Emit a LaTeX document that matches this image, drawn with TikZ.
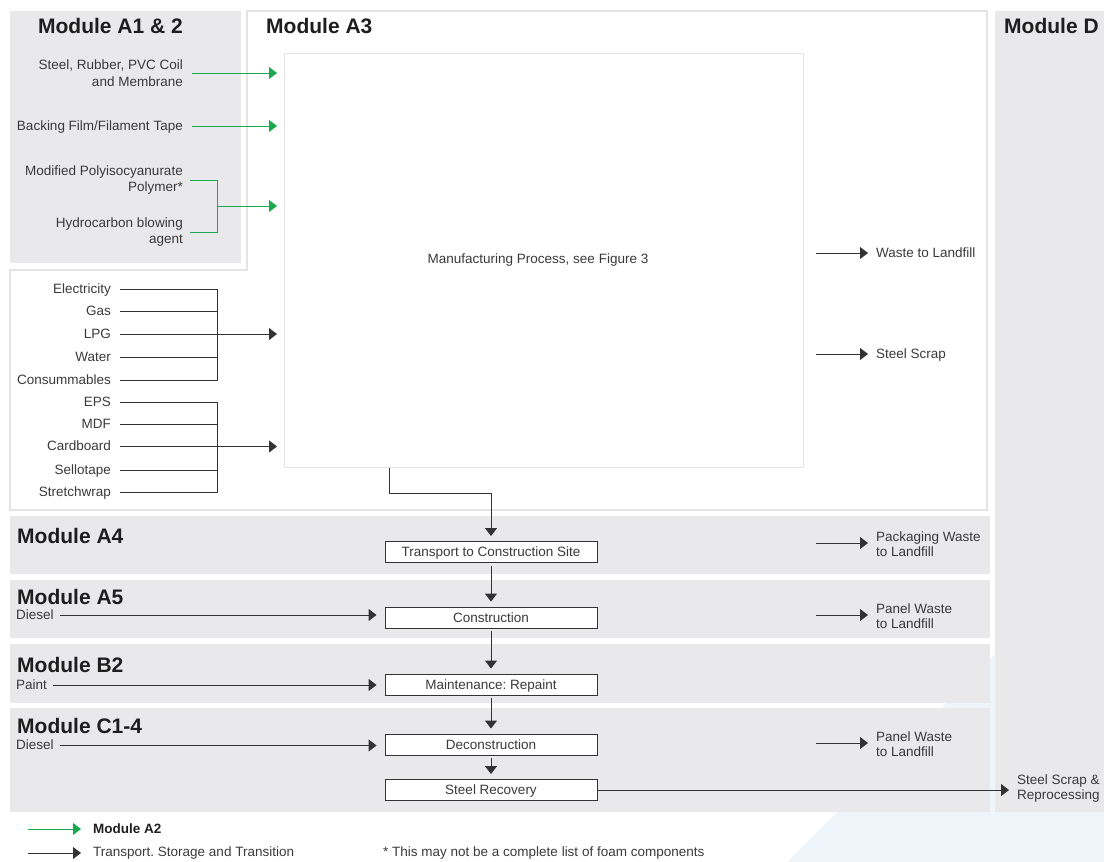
\documentclass[tikz,border=0pt]{standalone}
\usepackage{fontspec}
\setmainfont{Liberation Sans}
\usetikzlibrary{arrows.meta,calc}
\frenchspacing
\definecolor{panel}{HTML}{E9E9EB}
\definecolor{outl}{HTML}{E4E4E4}
\definecolor{txt}{HTML}{3A3A3A}
\definecolor{ttl}{HTML}{1E1E1E}
\definecolor{grn}{HTML}{1BA94F}
\definecolor{ln}{HTML}{333333}
\definecolor{wm}{HTML}{EEF5FB}
\tikzset{
  lbl/.style={font=\fontsize{13.5}{16}\selectfont, text=txt, inner sep=0pt, text height=9.5pt, text depth=1pt},
  lbltwo/.style={font=\fontsize{13.5}{16.5}\selectfont, text=txt, inner sep=0pt, align=right},
  lblr/.style={font=\fontsize{13.5}{15}\selectfont, text=txt, inner sep=0pt, align=left, anchor=west},
  ttlnode/.style={font=\fontsize{21}{24}\selectfont\bfseries, text=ttl, inner sep=0pt},
  pbox/.style={draw=ln, line width=0.9pt, fill=white, minimum width=212pt, minimum height=21pt, inner sep=0pt, font=\fontsize{13.5}{16}\selectfont, text=txt, text height=9.5pt, text depth=0.5pt},
  tip/.style={-{Triangle[length=8pt,width=12pt]}},
  barr/.style={draw=ln, line width=0.9pt, tip},
  bline/.style={draw=ln, line width=0.9pt},
  garr/.style={draw=grn, line width=1pt, -{Triangle[length=8pt,width=12pt]}},
  gline/.style={draw=grn, line width=1pt},
}
\begin{document}
\begin{tikzpicture}[x=1pt,y=-1pt]
\useasboundingbox (0,0) rectangle (1104,862);
% watermark
\fill[wm] (787,862) -- (1002,647) -- (1104,647) -- (1104,862) -- cycle;
% panels
\fill[panel] (10,11) rectangle (241,263);
\fill[panel] (995,11) rectangle (1104,812);
\draw[outl, line width=1.6pt, fill=white] (247,11) -- (987,11) -- (987,510) -- (10,510) -- (10,270) -- (247,270) -- cycle;
\fill[panel] (10,516) rectangle (990,574);
\fill[panel] (10,580) rectangle (990,638);
\fill[panel] (10,644) rectangle (990,703);
\fill[panel] (10,708) rectangle (990,812);
% titles
\node[ttlnode, anchor=base east] (tA12) at (183,34) {Module A1 \& 2};
\node[ttlnode, anchor=base west] (tA3) at (266,34) {Module A3};
\node[ttlnode, anchor=base west] (tD) at (1004,34) {Module D};
\node[ttlnode, anchor=base west] (tA4) at (17,543) {Module A4};
\node[ttlnode, anchor=base west] (tA5) at (17,604) {Module A5};
\node[ttlnode, anchor=base west] (tB2) at (17,672) {Module B2};
\node[ttlnode, anchor=base west] (tC) at (17,733) {Module C1-4};
% manufacturing box
\node[draw=outl, line width=1.3pt, minimum width=519pt, minimum height=414pt, inner sep=0pt, anchor=north west] (mfg) at (284,53) {};
\node[lbl] (mfgt) at (538,259) {Manufacturing Process, see Figure 3};
% green inputs
\node[lbltwo, anchor=east] (steel) at (183,73) {Steel, Rubber, PVC Coil\\and Membrane};
\node[lbl, anchor=east] (back) at (183,126) {Backing Film/Filament Tape};
\node[lbltwo, anchor=east] (mpp) at (183,180) {Modified Polyisocyanurate\\Polymer*};
\node[lbltwo, anchor=east] (hba) at (183,232) {Hydrocarbon blowing\\agent};
\coordinate (gbx) at (217,206);
\draw[garr, shorten >=7pt] ([xshift=9pt]steel.east) -- (steel.east -| mfg.west);
\draw[garr, shorten >=7pt] ([xshift=9pt]back.east) -- (back.east -| mfg.west);
\draw[gline] ([xshift=7pt]mpp.east) -| (gbx |- hba.east) -- ([xshift=7pt]hba.east);
\draw[garr, shorten >=7pt] (gbx) -- (gbx -| mfg.west);
% black inputs group 1
\node[lbl, anchor=east] (elec) at (111,289) {Electricity};
\node[lbl, anchor=east] (gas) at (111,311.5) {Gas};
\node[lbl, anchor=east] (lpg) at (111,334) {LPG};
\node[lbl, anchor=east] (water) at (111,357.5) {Water};
\node[lbl, anchor=east] (cons) at (111,380.5) {Consummables};
\coordinate (bx1) at (217,334);
\draw[bline] ([xshift=9pt]elec.east) -| (bx1 |- cons.east) -- ([xshift=9pt]cons.east);
\draw[bline] ([xshift=9pt]gas.east) -- (gas.east -| bx1);
\draw[bline] ([xshift=9pt]water.east) -- (water.east -| bx1);
\draw[barr, shorten >=7pt] ([xshift=9pt]lpg.east) -- (lpg.east -| mfg.west);
% black inputs group 2
\node[lbl, anchor=east] (eps) at (111,402.5) {EPS};
\node[lbl, anchor=east] (mdf) at (111,424) {MDF};
\node[lbl, anchor=east] (card) at (111,446.5) {Cardboard};
\node[lbl, anchor=east] (sello) at (111,470) {Sellotape};
\node[lbl, anchor=east] (stretch) at (111,492.5) {Stretchwrap};
\coordinate (bx2) at (217,446.5);
\draw[bline] ([xshift=9pt]eps.east) -| (bx2 |- stretch.east) -- ([xshift=9pt]stretch.east);
\draw[bline] ([xshift=9pt]mdf.east) -- (mdf.east -| bx2);
\draw[bline] ([xshift=9pt]sello.east) -- (sello.east -| bx2);
\draw[barr, shorten >=7pt] ([xshift=9pt]card.east) -- (card.east -| mfg.west);
% outputs of A3
\node[lbl, anchor=west] (wl) at (876,253) {Waste to Landfill};
\coordinate (wls) at (816,253);
\draw[barr, shorten >=8pt] (wls) -- (wl.west);
\node[lbl, anchor=west] (ss) at (876,354) {Steel Scrap};
\coordinate (sss) at (816,354);
\draw[barr, shorten >=8pt] (sss) -- (ss.west);
% process chain
\node[pbox] (tr) at (491,552) {Transport to Construction Site};
\node[pbox] (con) at (491,617.5) {Construction};
\node[pbox] (mai) at (491,684.5) {Maintenance: Repaint};
\node[pbox] (dec) at (491,744.5) {Deconstruction};
\node[pbox] (rec) at (491,790) {Steel Recovery};
\draw[barr, shorten >=5pt] ([xshift=5pt]tr.west |- mfg.south) -- ++(0,25) -| (tr.north);
\draw[barr, shorten <=3pt, shorten >=5pt] (tr.south) -- (con.north);
\draw[barr, shorten <=3pt, shorten >=5pt] (con.south) -- (mai.north);
\draw[barr, shorten <=3pt, shorten >=5pt] (mai.south) -- (dec.north);
\draw[barr, shorten <=3pt, shorten >=5pt] (dec.south) -- (rec.north);
% side inputs
\node[lbl, anchor=west] (d1) at (16,615) {Diesel};
\node[lbl, anchor=west] (pt) at (16,685) {Paint};
\node[lbl, anchor=west] (d2) at (16,745.5) {Diesel};
\draw[barr, shorten >=8pt] ([xshift=6pt]d1.east) -- (d1.east -| con.west);
\draw[barr, shorten >=8pt] ([xshift=6pt]pt.east) -- (pt.east -| mai.west);
\draw[barr, shorten >=8pt] ([xshift=6pt]d2.east) -- (d2.east -| dec.west);
% side outputs
\node[lblr] (pkw) at (876,544.5) {Packaging Waste\\to Landfill};
\coordinate (pkws) at (816,543);
\draw[barr, shorten >=8pt] (pkws) -- (pkws -| pkw.west);
\node[lblr] (pw1) at (876,616.5) {Panel Waste\\to Landfill};
\coordinate (pw1s) at (816,615);
\draw[barr, shorten >=8pt] (pw1s) -- (pw1s -| pw1.west);
\node[lblr] (pw2) at (876,744.5) {Panel Waste\\to Landfill};
\coordinate (pw2s) at (816,743);
\draw[barr, shorten >=8pt] (pw2s) -- (pw2s -| pw2.west);
\node[lblr] (ssr) at (1017,789) {Steel Scrap \&\\Reprocessing};
\draw[barr, shorten >=8pt] (rec.east) -- (rec.east -| ssr.west);
% legend
\coordinate (lg1s) at (28,829);
\node[lbl, anchor=west, font=\fontsize{13.5}{16}\selectfont\bfseries, text=ttl] (lg1) at (93,829.5) {Module A2};
\draw[garr, shorten >=12pt] (lg1s) -- (lg1s -| lg1.west);
\coordinate (lg2s) at (28,853);
\node[lbl, anchor=west] (lg2) at (93,852.5) {Transport. Storage and Transition};
\draw[barr, shorten >=12pt] (lg2s) -- (lg2s -| lg2.west);
\node[lbl, anchor=west] (fn) at (383,852.5) {* This may not be a complete list of foam components};
\end{tikzpicture}
\end{document}
